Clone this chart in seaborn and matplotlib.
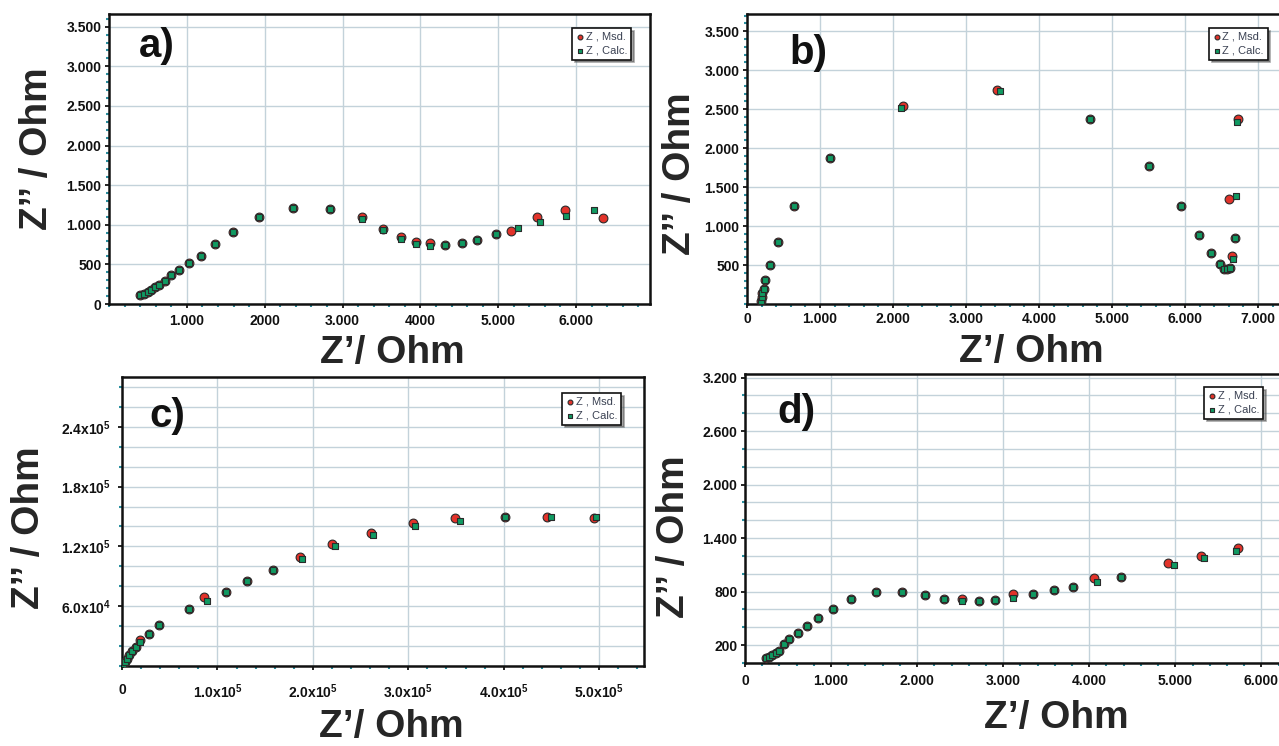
import numpy as np
import pandas as pd
import matplotlib
matplotlib.use("Agg")
import matplotlib.pyplot as plt
import seaborn as sns
from matplotlib.ticker import MultipleLocator

# ---------------- data ----------------
# panel a
a_msd_x = [401, 444, 495, 538, 594, 641, 713, 799, 901, 1034, 1180, 1363, 1590, 1923, 2359, 2837,
           3244, 3521, 3756, 3949, 4127, 4321, 4530, 4729, 4975, 5163, 5503, 5854, 6341]
a_msd_y = [109, 126, 155, 181, 210, 240, 294, 361, 433, 518, 610, 761, 909, 1098, 1212, 1195,
           1098, 950, 842, 780, 770, 745, 770, 812, 879, 921, 1098, 1190, 1086]
a_calc_x = [401, 444, 495, 538, 594, 641, 713, 799, 901, 1034, 1180, 1363, 1590, 1923, 2359, 2837,
            3244, 3521, 3756, 3949, 4127, 4321, 4530, 4729, 4975, 5253, 5540, 5874, 6236]
a_calc_y = [109, 126, 155, 181, 210, 240, 294, 361, 433, 518, 610, 761, 909, 1098, 1212, 1195,
            1077, 929, 820, 760, 727, 740, 770, 812, 879, 955, 1039, 1106, 1182]

# panel b
b_msd_x = [189, 201, 212, 228, 245, 312, 423, 646, 1131, 2134, 3432, 4702, 5510, 5950, 6189, 6362,
           6474, 6540, 6579, 6618, 6646, 6691, 6602, 6730]
b_msd_y = [38, 90, 145, 197, 303, 500, 799, 1256, 1872, 2538, 2744, 2368, 1769, 1256, 889, 650,
           509, 453, 444, 466, 615, 850, 1350, 2368]
b_calc_x = [189, 201, 212, 228, 245, 312, 423, 646, 1131, 2106, 3471, 4702, 5510, 5950, 6189, 6362,
            6474, 6540, 6579, 6618, 6663, 6691, 6702, 6713]
b_calc_y = [38, 90, 145, 197, 303, 500, 799, 1256, 1872, 2517, 2735, 2368, 1769, 1256, 889, 650,
            509, 453, 444, 466, 581, 850, 1390, 2338]

# panel c
c_msd_x = [1.3e3, 3.4e3, 5.6e3, 7.7e3, 1.07e4, 1.42e4, 1.85e4, 2.79e4, 3.86e4, 7.0e4, 8.63e4,
           1.086e5, 1.309e5, 1.579e5, 1.867e5, 2.2e5, 2.609e5, 3.047e5, 3.489e5, 4.013e5, 4.45e5, 4.948e5]
c_msd_y = [2e3, 4.3e3, 7.3e3, 1.07e4, 1.5e4, 1.87e4, 2.6e4, 3.2e4, 4.1e4, 5.73e4, 6.93e4,
           7.43e4, 8.5e4, 9.6e4, 1.093e5, 1.227e5, 1.337e5, 1.433e5, 1.483e5, 1.5e5, 1.493e5, 1.483e5]
c_calc_x = [1.3e3, 3.4e3, 5.6e3, 7.7e3, 1.07e4, 1.42e4, 1.93e4, 2.79e4, 3.86e4, 7.0e4, 8.88e4,
            1.086e5, 1.309e5, 1.579e5, 1.888e5, 2.236e5, 2.631e5, 3.069e5, 3.541e5, 4.013e5, 4.494e5, 4.966e5]
c_calc_y = [2e3, 4.3e3, 7.3e3, 1.07e4, 1.5e4, 1.87e4, 2.43e4, 3.2e4, 4.1e4, 5.73e4, 6.5e4,
            7.43e4, 8.5e4, 9.6e4, 1.073e5, 1.203e5, 1.317e5, 1.4e5, 1.453e5, 1.5e5, 1.5e5, 1.5e5]

# panel d
d_msd_x = [242, 280, 318, 355, 398, 455, 517, 611, 716, 844, 1024, 1237, 1521, 1820, 2090, 2313,
           2517, 2716, 2905, 3118, 3346, 3588, 3815, 4057, 4365, 4915, 5303, 5725]
d_msd_y = [56, 71, 90, 112, 139, 214, 274, 338, 412, 506, 608, 712, 795, 799, 758, 720,
           712, 694, 705, 769, 776, 814, 851, 956, 964, 1121, 1200, 1294]
d_calc_x = [242, 280, 318, 355, 398, 455, 517, 611, 716, 844, 1024, 1237, 1521, 1820, 2090, 2313,
            2517, 2716, 2905, 3118, 3346, 3588, 3815, 4095, 4365, 4990, 5336, 5701]
d_calc_y = [56, 71, 90, 112, 139, 214, 274, 338, 412, 506, 608, 712, 795, 799, 758, 720,
            694, 694, 705, 731, 776, 814, 851, 911, 964, 1099, 1178, 1256]

# tick labels
a_xticks = [1000, 2000, 3000, 4000, 5000, 6000]
a_xlabels = ["1.000", "2000", "3.000", "4000", "5.000", "6.000"]
a_yticks = [0, 500, 1000, 1500, 2000, 2500, 3000, 3500]
a_ylabels = ["0", "500", "1.000", "1.500", "2.000", "2.500", "3.000", "3.500"]

b_xticks = [0, 1000, 2000, 3000, 4000, 5000, 6000, 7000]
b_xlabels = ["0", "1.000", "2.000", "3.000", "4.000", "5.000", "6.000", "7.000"]
b_yticks = [500, 1000, 1500, 2000, 2500, 3000, 3500]
b_ylabels = ["500", "1.000", "1.500", "2.000", "2.500", "3.000", "3.500"]

c_xticks = [0, 1e5, 2e5, 3e5, 4e5, 5e5]
c_xlabels = ["0", r"1.0x10$^{5}$", r"2.0x10$^{5}$", r"3.0x10$^{5}$", r"4.0x10$^{5}$", r"5.0x10$^{5}$"]
c_yticks = [6e4, 1.2e5, 1.8e5, 2.4e5]
c_ylabels = [r"6.0x10$^{4}$", r"1.2x10$^{5}$", r"1.8x10$^{5}$", r"2.4x10$^{5}$"]

d_xticks = [0, 1000, 2000, 3000, 4000, 5000, 6000]
d_xlabels = ["0", "1.000", "2.000", "3.000", "4.000", "5.000", "6.000"]
d_yticks = [200, 800, 1400, 2000, 2600, 3200]
d_ylabels = ["200", "800", "1.400", "2.000", "2.600", "3.200"]

letters = ["a)", "b)", "c)", "d)"]
msd_label = "Z , Msd."
calc_label = "Z , Calc."
xlabel_text = "Z\u2019/ Ohm"
ylabel_text = "Z\u2019\u2019 / Ohm"

# ---------------- style ----------------
sns.set_style("white")
plt.rcParams["font.family"] = ["Liberation Sans", "DejaVu Sans"]
plt.rcParams["mathtext.default"] = "regular"

RED = "#e2332a"
GREEN = "#109a62"
EDGE = "#2a2a2a"
GRID = "#c3d2da"
TEAL = "#2c8fa0"

W, H = 1279, 746
fig = plt.figure(figsize=(W / 100, H / 100), dpi=100)
fig.patch.set_facecolor("white")


def make_axes(l, t, r, b):
    return fig.add_axes([l / W, 1 - b / H, (r - l) / W, (b - t) / H])


panels = [
    dict(box=(109, 14, 650, 304), xlim=(0, 6950), ylim=(0, 3660),
         data=(a_msd_x, a_msd_y, a_calc_x, a_calc_y),
         xt=(a_xticks, a_xlabels), yt=(a_yticks, a_ylabels),
         xminor=200, yminor=100, ygrid_minor=False,
         letter=(0.055, 0.955), leg=(0.965, 0.952),
         xlab=(0.523, -0.203), ylab=(-0.133, 0.534), xpad=4, ypad=2.5),
    dict(box=(747, 14, 1282, 304), xlim=(0, 7330), ylim=(0, 3720),
         data=(b_msd_x, b_msd_y, b_calc_x, b_calc_y),
         xt=(b_xticks, b_xlabels), yt=(b_yticks, b_ylabels),
         xminor=200, yminor=100, ygrid_minor=False,
         letter=(0.079, 0.93), leg=(0.973, 0.952),
         xlab=(0.532, -0.200), ylab=(-0.126, 0.448), xpad=3, ypad=2.5),
    dict(box=(122, 377, 644, 666), xlim=(0, 5.47e5), ylim=(0, 2.9e5),
         data=(c_msd_x, c_msd_y, c_calc_x, c_calc_y),
         xt=(c_xticks, c_xlabels), yt=(c_yticks, c_ylabels),
         xminor=2e4, yminor=2e4, ygrid_minor=True,
         letter=(0.052, 0.93), leg=(0.956, 0.945),
         xlab=(0.515, -0.245), ylab=(-0.178, 0.477), xpad=9, ypad=5),
    dict(box=(745, 374, 1282, 663), xlim=(0, 6240), ylim=(0, 3240),
         data=(d_msd_x, d_msd_y, d_calc_x, d_calc_y),
         xt=(d_xticks, d_xlabels), yt=(d_yticks, d_ylabels),
         xminor=200, yminor=200, ygrid_minor=True,
         letter=(0.06, 0.935), leg=(0.965, 0.955),
         xlab=(0.58, -0.225), ylab=(-0.133, 0.436), xpad=5, ypad=2.5),
]

for p, letter in zip(panels, letters):
    ax = make_axes(*p["box"])
    mx, my, cx, cy = p["data"]
    dm = pd.DataFrame({"x": mx, "y": my})
    dc = pd.DataFrame({"x": cx, "y": cy})
    sns.scatterplot(data=dm, x="x", y="y", ax=ax, marker="o", s=40, color=RED,
                    edgecolor=EDGE, linewidth=0.8, label=msd_label, zorder=3)
    sns.scatterplot(data=dc, x="x", y="y", ax=ax, marker="s", s=25, color=GREEN,
                    edgecolor=EDGE, linewidth=0.8, label=calc_label, zorder=4)

    ax.set_xlim(*p["xlim"])
    ax.set_ylim(*p["ylim"])
    ax.set_xticks(p["xt"][0], labels=p["xt"][1], fontsize=10, fontweight="bold")
    ax.set_yticks(p["yt"][0], labels=p["yt"][1], fontsize=10, fontweight="bold")
    ax.xaxis.set_minor_locator(MultipleLocator(p["xminor"]))
    ax.yaxis.set_minor_locator(MultipleLocator(p["yminor"]))

    ax.set_axisbelow(True)
    ax.grid(True, which="major", color=GRID, linewidth=1.0)
    if p["ygrid_minor"]:
        ax.grid(True, which="minor", axis="y", color=GRID, linewidth=1.0)

    ax.tick_params(axis="both", which="major", direction="out", length=3, width=1.2,
                   color="black", labelcolor="#111111")
    ax.tick_params(axis="x", which="major", pad=p["xpad"])
    ax.tick_params(axis="y", which="major", pad=p["ypad"])
    ax.tick_params(axis="both", which="minor", direction="out", length=2, width=1.5,
                   color=TEAL)
    ax.tick_params(bottom=True, left=True, which="both")

    for side in ["top", "bottom", "left", "right"]:
        ax.spines[side].set_color("#111111")
        ax.spines[side].set_linewidth(1.8)

    ax.set_xlabel(xlabel_text, fontsize=28, fontweight="bold")
    ax.set_ylabel(ylabel_text, fontsize=28, fontweight="bold")
    ax.xaxis.set_label_coords(*p["xlab"])
    ax.yaxis.set_label_coords(*p["ylab"])
    ax.xaxis.label.set_va("baseline")
    ax.yaxis.label.set_va("center")
    ax.yaxis.label.set_ha("center")

    ax.text(p["letter"][0], p["letter"][1], letter, transform=ax.transAxes,
            fontsize=29, fontweight="bold", va="top", ha="left", color="#111111")

    leg = ax.legend(loc="upper right", bbox_to_anchor=p["leg"], borderaxespad=0,
                    frameon=True, fancybox=False, shadow=True, prop={"size": 8},
                    markerscale=0.55, handletextpad=0.15, handlelength=0.7,
                    borderpad=0.35, labelspacing=0.35)
    leg.get_frame().set_edgecolor("#111111")
    leg.get_frame().set_linewidth(1.2)
    leg.get_frame().set_facecolor("white")
    leg.get_frame().set_alpha(1)
    for t in leg.get_texts():
        t.set_color("#3a4152")

fig.savefig("out.png", dpi=100)
